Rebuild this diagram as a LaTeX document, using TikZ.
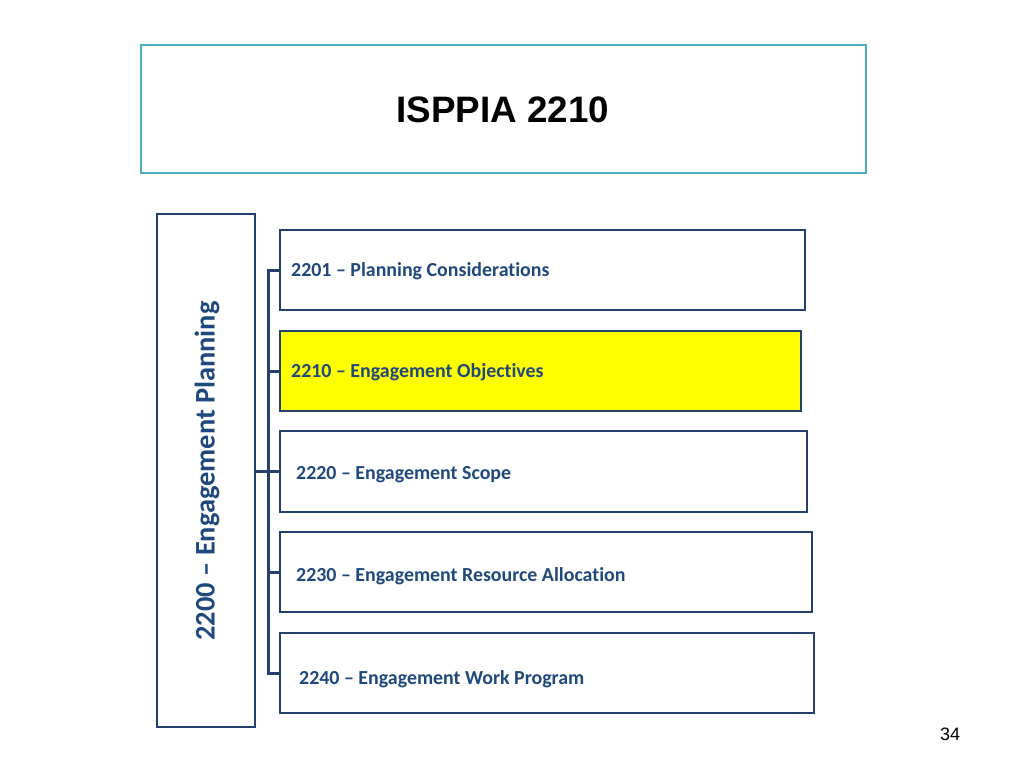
\documentclass[tikz,border=0pt]{standalone}
\usepackage{fontspec}
\setmainfont[RawFeature={-liga,-dlig,-clig}]{Carlito}
\newfontfamily\arialfont{Liberation Sans}
\definecolor{boxline}{RGB}{36,64,108}
\definecolor{txtblue}{RGB}{31,73,125}
\definecolor{teal}{RGB}{75,172,198}
\definecolor{hiyellow}{RGB}{255,255,0}
\begin{document}
\begin{tikzpicture}[x=1pt,y=-1pt,
  itembox/.style={draw=boxline,line width=2.6pt,anchor=north west,inner sep=0pt,outer sep=0pt},
  itemtxt/.style={anchor=west,inner sep=0pt,text=txtblue,font=\fontsize{19.9}{23}\selectfont\bfseries},
  conn/.style={draw=boxline,line width=3pt}]
\fill[white] (0,0) rectangle (1024,768);
\useasboundingbox (0,0) rectangle (1024,768);
% title
\node[draw=teal,line width=1.6pt,anchor=north west,outer sep=0pt,minimum width=725pt,minimum height=128pt,inner sep=0pt] (title) at (141,45) {};
\node[font=\arialfont\fontsize{36.8}{42}\selectfont\bfseries,inner sep=0pt] (ttext) at (503,110) {ISPPIA 2210};
% left box
\node[itembox,minimum width=98pt,minimum height=513pt] (L) at (157,214) {};
\node[rotate=90,inner sep=0pt,text=txtblue,font=\fontsize{28.4}{32}\selectfont\bfseries] (Ltxt) at (207,471) {2200 – Engagement Planning};
% item boxes
\node[itembox,minimum width=525pt,minimum height=80pt] (b1) at (280,230) {};
\node[itembox,fill=hiyellow,minimum width=521pt,minimum height=80pt] (b2) at (280,331) {};
\node[itembox,minimum width=527pt,minimum height=81pt] (b3) at (280,431) {};
\node[itembox,minimum width=532pt,minimum height=80pt] (b4) at (280,532) {};
\node[itembox,minimum width=534pt,minimum height=80pt] (b5) at (280,633) {};
\node[itemtxt] (t1) at (291,271) {2201 – Planning Considerations};
\node[itemtxt] (t2) at (291,372) {2210 – Engagement Objectives};
\node[itemtxt] (t3) at (296,475) {2220 – Engagement Scope};
\node[itemtxt] (t4) at (296,576) {2230 – Engagement Resource Allocation};
\node[itemtxt] (t5) at (299,679) {2240 – Engagement Work Program};
% connectors
\coordinate (bt) at ([xshift=-12pt]b1.west);
\coordinate (bb) at ([xshift=-12pt]b5.west);
\draw[conn] (b1.west) -- (bt) -- (bb) -- (b5.west);
\draw[conn] (b2.west) -- (b2.west -| bt);
\draw[conn] (b4.west) -- (b4.west -| bt);
\draw[conn] (L.east |- b3.west) -- (b3.west);
% page number
\node[font=\arialfont\fontsize{18}{21}\selectfont,inner sep=0pt] (pg) at (950,734) {34};
\end{tikzpicture}
\end{document}
